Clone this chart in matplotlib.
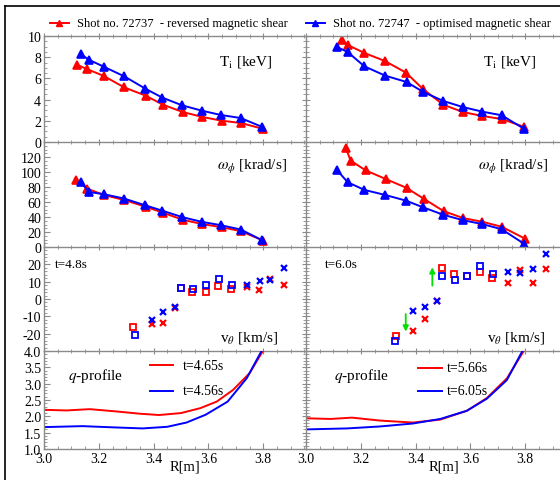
import matplotlib
matplotlib.use("Agg")
import matplotlib.pyplot as plt
from matplotlib.lines import Line2D
from matplotlib.ticker import MultipleLocator

plt.rcParams['font.family'] = 'serif'
plt.rcParams['font.serif'] = ['Liberation Serif', 'DejaVu Serif']
plt.rcParams['mathtext.fontset'] = 'stix'
plt.rcParams['axes.unicode_minus'] = False

RED = '#ff0000'
BLUE = '#0000ff'
GREEN = '#00e000'
GRAY = '#8a8a8a'

# ---------------- data ----------------
# Ti, left (t=4.8s)
R_ti_L_red = [3.119, 3.156, 3.218, 3.292, 3.371, 3.434, 3.506, 3.578, 3.648, 3.719, 3.800]
Ti_L_red = [7.30, 6.89, 6.23, 5.16, 4.37, 3.52, 2.83, 2.36, 2.01, 1.79, 1.23]
R_ti_L_blue = [3.135, 3.163, 3.220, 3.293, 3.370, 3.432, 3.504, 3.575, 3.645, 3.718, 3.796]
Ti_L_blue = [8.27, 7.77, 7.08, 6.19, 5.03, 4.18, 3.46, 2.96, 2.55, 2.26, 1.42]
# Ti, right (t=6.0s)
R_ti_R_red = [3.133, 3.155, 3.213, 3.288, 3.365, 3.428, 3.501, 3.572, 3.644, 3.714, 3.797]
Ti_R_red = [9.62, 9.12, 8.40, 7.64, 6.54, 4.97, 3.52, 2.83, 2.45, 2.17, 1.42]
R_ti_R_blue = [3.113, 3.152, 3.213, 3.289, 3.367, 3.428, 3.501, 3.572, 3.644, 3.714, 3.795]
Ti_R_blue = [8.96, 8.49, 7.14, 6.26, 5.66, 4.72, 3.87, 3.30, 2.86, 2.52, 1.26]

# omega_phi
R_w_L_red = [3.117, 3.157, 3.218, 3.292, 3.371, 3.434, 3.506, 3.578, 3.648, 3.719, 3.800]
w_L_red = [89.6, 77.9, 69.4, 62.7, 53.7, 45.7, 36.3, 30.5, 26.4, 21.0, 8.5]
R_w_L_blue = [3.135, 3.163, 3.220, 3.293, 3.370, 3.432, 3.504, 3.575, 3.645, 3.718, 3.796]
w_L_blue = [86.9, 73.4, 70.3, 64.5, 55.5, 48.4, 39.9, 33.6, 29.1, 23.3, 9.0]
R_w_R_red = [3.145, 3.163, 3.218, 3.292, 3.367, 3.431, 3.502, 3.574, 3.644, 3.715, 3.799]
w_R_red = [132.1, 115.1, 102.1, 90.5, 78.8, 64.0, 47.9, 38.5, 33.6, 26.9, 11.2]
R_w_R_blue = [3.112, 3.152, 3.213, 3.289, 3.365, 3.428, 3.501, 3.572, 3.644, 3.714, 3.795]
w_R_blue = [103.0, 86.4, 76.1, 69.4, 61.8, 52.8, 43.0, 35.8, 30.5, 23.7, 4.5]

# v_theta, left
R_vsq_L_red = [3.326, 3.499, 3.541, 3.590, 3.635, 3.682]
v_sq_L_red = [-16.3, 6.5, 4.2, 3.8, 7.7, 5.6]
R_vsq_L_blue = [3.331, 3.499, 3.545, 3.592, 3.639, 3.685]
v_sq_L_blue = [-20.8, 6.3, 5.6, 8.3, 11.5, 8.3]
R_vx_L_red = [3.393, 3.434, 3.479, 3.740, 3.783, 3.825, 3.877]
v_x_L_red = [-14.6, -13.7, -5.4, 7.1, 5.0, 11.5, 8.3]
R_vx_L_blue = [3.393, 3.434, 3.479, 3.740, 3.787, 3.825, 3.877]
v_x_L_blue = [-11.9, -7.3, -4.8, 8.1, 10.4, 11.0, 17.9]
# v_theta, right
R_vsq_R_red = [3.330, 3.496, 3.539, 3.588, 3.634, 3.680]
v_sq_R_red = [-21.3, 17.7, 14.2, 13.3, 15.6, 12.3]
R_vsq_R_blue = [3.326, 3.496, 3.543, 3.588, 3.636, 3.683]
v_sq_R_blue = [-24.2, 13.1, 11.0, 13.3, 18.8, 14.6]
R_vx_R_red = [3.392, 3.433, 3.477, 3.737, 3.782, 3.827, 3.877]
v_x_R_red = [-18.5, -11.5, -1.3, 9.2, 16.7, 9.0, 17.1]
R_vx_R_blue = [3.389, 3.433, 3.477, 3.738, 3.782, 3.827, 3.875]
v_x_R_blue = [-6.9, -4.6, -1.3, 15.4, 14.8, 17.3, 26.0]
# green arrows (R, v_start, v_end)
arrows_R = [(3.364, -8.7, -18.8), (3.461, 7.7, 18.3)]

# q-profiles
R_q_L_red = [3.0, 3.082, 3.167, 3.264, 3.35, 3.42, 3.50, 3.57, 3.63, 3.69, 3.75, 3.80]
q_L_red = [2.20, 2.18, 2.22, 2.15, 2.08, 2.04, 2.10, 2.25, 2.45, 2.81, 3.32, 4.02]
R_q_L_blue = [3.0, 3.14, 3.26, 3.36, 3.45, 3.52, 3.59, 3.67, 3.74, 3.795]
q_L_blue = [1.67, 1.70, 1.66, 1.63, 1.68, 1.81, 2.05, 2.45, 3.17, 4.02]
R_q_R_red = [3.0, 3.089, 3.168, 3.27, 3.39, 3.49, 3.587, 3.66, 3.733, 3.796]
q_R_red = [1.94, 1.92, 1.96, 1.87, 1.81, 1.90, 2.17, 2.56, 3.16, 4.02]
R_q_R_blue = [3.0, 3.15, 3.27, 3.39, 3.49, 3.587, 3.66, 3.733, 3.791]
q_R_blue = [1.60, 1.63, 1.69, 1.78, 1.92, 2.17, 2.54, 3.11, 4.02]

leg_labels = ['Shot no. 72737  - reversed magnetic shear',
              'Shot no. 72747  - optimised magnetic shear']
q_leg_L = ['t=4.65s', 't=4.56s']
q_leg_R = ['t=5.66s', 't=6.05s']
time_L, time_R = 't=4.8s', 't=6.0s'
xticks = [3.0, 3.2, 3.4, 3.6, 3.8]
yticks_rows = [[0, 2, 4, 6, 8, 10],
               [0, 20, 40, 60, 80, 100, 120],
               [-20, -10, 0, 10, 20],
               [1.0, 1.5, 2.0, 2.5, 3.0, 3.5, 4.0]]

# ---------------- layout ----------------
W, H = 560, 481
fig = plt.figure(figsize=(W / 100, H / 100), dpi=100)

def fx(px):
    return px / W

def fy(py):
    return 1 - py / H

colL = (44, 306)
colR = (306, 560)
rows = [(37, 143), (143, 248), (248, 352), (352, 450)]
ylims = [(0, 10), (0, 140), (-30, 30), (1.0, 4.0)]
ymin = [0.5, 5, 2, 0.1]
xlimL = (3.0, 3.956)
xlimR = (3.0, 3.927)
TL = 10

axes = {}
for ci, (col, xl) in enumerate([(colL, xlimL), (colR, xlimR)]):
    for ri, row in enumerate(rows):
        ax = fig.add_axes([fx(col[0]), fy(row[1]), fx(col[1] - col[0]), (row[1] - row[0]) / H])
        ax.set_facecolor('none')
        for s in ax.spines.values():
            s.set_color(GRAY)
            s.set_linewidth(1.0)
        ax.spines['right'].set_visible(False)
        if ri > 0:
            ax.spines['top'].set_visible(False)
        ax.set_xticks(xticks)
        ax.xaxis.set_minor_locator(MultipleLocator(0.05))
        ax.set_yticks(yticks_rows[ri])
        ax.yaxis.set_minor_locator(MultipleLocator(ymin[ri]))
        ax.set_ylim(*ylims[ri])
        ax.set_xlim(*xl)
        xdir = 'in' if ri == 3 else 'inout'
        ax.tick_params(axis='x', which='both', direction=xdir, colors=GRAY,
                       labelcolor='black', top=(ri == 0), labelsize=TL, pad=2)
        ax.tick_params(axis='x', which='major', length=4, width=0.8)
        ax.tick_params(axis='x', which='minor', length=2.5, width=0.6)
        if ri != 3:
            ax.tick_params(axis='x', labelbottom=False)
        else:
            ax.set_xticklabels([f'{t:.1f}' for t in xticks])
        if ci == 0:
            ax.tick_params(axis='y', which='both', direction='in', colors=GRAY,
                           labelcolor='black', labelsize=TL, pad=2)
            ax.tick_params(axis='y', which='major', length=4, width=0.8)
            ax.tick_params(axis='y', which='minor', length=2, width=0.6)
            if ri == 3:
                ax.set_yticklabels([f'{t:.1f}' for t in yticks_rows[3]])
            else:
                ax.set_yticklabels([str(t) for t in yticks_rows[ri]])
        else:
            ax.tick_params(axis='y', which='both', direction='inout', colors=GRAY,
                           labelleft=False)
            ax.tick_params(axis='y', which='major', length=6, width=0.8)
            ax.tick_params(axis='y', which='minor', length=4, width=0.6)
        axes[(ci, ri)] = ax

lk = dict(lw=1.4, marker='^', ms=5.5, mew=1.2)
FL = 11

# Ti
a = axes[(0, 0)]
a.plot(R_ti_L_red, Ti_L_red, color=RED, **lk)
a.plot(R_ti_L_blue, Ti_L_blue, color=BLUE, **lk)
a.text(0.870, 0.76, r'T$_{\rm i}$ [keV]', transform=a.transAxes, ha='right', va='center', fontsize=FL)
a = axes[(1, 0)]
a.plot(R_ti_R_red, Ti_R_red, color=RED, **lk)
a.plot(R_ti_R_blue, Ti_R_blue, color=BLUE, **lk)
a.text(0.909, 0.76, r'T$_{\rm i}$ [keV]', transform=a.transAxes, ha='right', va='center', fontsize=FL)

# omega
a = axes[(0, 1)]
a.plot(R_w_L_red, w_L_red, color=RED, **lk)
a.plot(R_w_L_blue, w_L_blue, color=BLUE, **lk)
a.text(0.927, 0.77, r'$\omega_{\phi}$ [krad/s]', transform=a.transAxes, ha='right', va='center', fontsize=FL)
a = axes[(1, 1)]
a.plot(R_w_R_red, w_R_red, color=RED, **lk)
a.plot(R_w_R_blue, w_R_blue, color=BLUE, **lk)
a.text(0.953, 0.77, r'$\omega_{\phi}$ [krad/s]', transform=a.transAxes, ha='right', va='center', fontsize=FL)

# v_theta
sqk = dict(ls='none', marker='s', ms=5, mfc='none', mew=1.3)
xk = dict(ls='none', marker='x', ms=5, mew=1.6)
a = axes[(0, 2)]
a.plot(R_vsq_L_red, v_sq_L_red, color=RED, **sqk)
a.plot(R_vsq_L_blue, v_sq_L_blue, color=BLUE, **sqk)
a.plot(R_vx_L_red, v_x_L_red, color=RED, **xk)
a.plot(R_vx_L_blue, v_x_L_blue, color=BLUE, **xk)
a.text(0.042, 0.835, time_L, transform=a.transAxes, ha='left', va='center', fontsize=9.5)
a.text(0.893, 0.135, r'v$_{\theta}$ [km/s]', transform=a.transAxes, ha='right', va='center', fontsize=FL)
a = axes[(1, 2)]
a.plot(R_vsq_R_red, v_sq_R_red, color=RED, **sqk)
a.plot(R_vsq_R_blue, v_sq_R_blue, color=BLUE, **sqk)
a.plot(R_vx_R_red, v_x_R_red, color=RED, **xk)
a.plot(R_vx_R_blue, v_x_R_blue, color=BLUE, **xk)
for r, v0, v1 in arrows_R:
    a.annotate('', xy=(r, v1), xytext=(r, v0),
               arrowprops=dict(arrowstyle='-|>', color=GREEN, lw=1.3, mutation_scale=8,
                               shrinkA=0, shrinkB=0))
a.text(0.075, 0.835, time_R, transform=a.transAxes, ha='left', va='center', fontsize=9.5)
a.text(0.941, 0.135, r'v$_{\theta}$ [km/s]', transform=a.transAxes, ha='right', va='center', fontsize=FL)

# q-profile
def q_panel(a, Rr, qr, Rb, qb, labels, xl0, xl1, xt, yr, yb, xtxt):
    a.plot(Rr, qr, color=RED, lw=1.4)
    a.plot(Rb, qb, color=BLUE, lw=1.4)
    for y, c, lab in [(yr, RED, labels[0]), (yb, BLUE, labels[1])]:
        a.add_line(Line2D([xl0, xl1], [y, y], transform=a.transAxes, color=c, lw=1.4))
        a.text(xt, y, lab, transform=a.transAxes, ha='left', va='center', fontsize=10)
    a.text(xtxt, 0.755, r'$q$-profile', transform=a.transAxes, ha='left', va='center', fontsize=FL)

q_panel(axes[(0, 3)], R_q_L_red, q_L_red, R_q_L_blue, q_L_blue, q_leg_L,
        0.405, 0.492, 0.531, 0.857, 0.592, 0.092)
q_panel(axes[(1, 3)], R_q_R_red, q_R_red, R_q_R_blue, q_R_blue, q_leg_R,
        0.441, 0.535, 0.555, 0.827, 0.592, 0.110)

fig.text(fx(185), fy(467), 'R[m]', ha='center', va='center', fontsize=10.5)
fig.text(fx(444), fy(467), 'R[m]', ha='center', va='center', fontsize=10.5)

# top legend
for (x0, xm, x1, xt), c, lab in [((50, 59, 69, 77), RED, leg_labels[0]),
                                  ((306, 315, 325, 333), BLUE, leg_labels[1])]:
    fig.add_artist(Line2D([fx(x0), fx(xm), fx(x1)], [fy(23.5)] * 3, transform=fig.transFigure,
                          color=c, lw=1.4, marker='^', ms=5, markevery=[1]))
    fig.text(fx(xt), fy(23.5), lab, ha='left', va='center', fontsize=9.0)

# figure frame (left and top)
fig.add_artist(Line2D([fx(5), fx(5)], [0, fy(7)], transform=fig.transFigure, color='black', lw=1.2))
fig.add_artist(Line2D([fx(5), 1], [fy(7), fy(7)], transform=fig.transFigure, color='black', lw=1.2))

fig.savefig('out.png', dpi=100)
